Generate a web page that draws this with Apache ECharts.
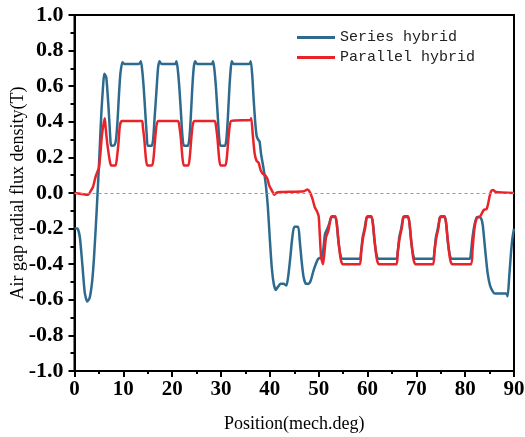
<!DOCTYPE html>
<html>
<head>
<meta charset="utf-8">
<script src="https://cdn.jsdelivr.net/npm/echarts@6/dist/echarts.min.js"></script>
<style>html,body{margin:0;padding:0;background:#fff;}#c{width:525px;height:437px;}</style>
</head>
<body>
<div id="c"></div>
<script>
var seriesNames = ['Series hybrid', 'Parallel hybrid'];
var xTicks = [0, 10, 20, 30, 40, 50, 60, 70, 80, 90];
var yTicks = [-1.0, -0.8, -0.6, -0.4, -0.2, 0.0, 0.2, 0.4, 0.6, 0.8, 1.0];

var seriesHybrid = [
[0,-0.20],[0.6,-0.20],[1.1,-0.25],[1.6,-0.40],[2.1,-0.56],[2.6,-0.61],[3.1,-0.59],[3.6,-0.50],[4.0,-0.36],[4.5,-0.12],[5.0,0.15],[5.5,0.45],[5.9,0.62],[6.1,0.67],[6.5,0.65],[6.8,0.55],[7.1,0.42],[7.4,0.28],[7.6,0.265],[8.2,0.27],[8.5,0.30],[8.8,0.40],[9.1,0.55],[9.4,0.67],[9.8,0.735],[10.2,0.725],[13.2,0.725],[13.6,0.74],[13.9,0.68],[14.2,0.58],[14.5,0.45],[14.8,0.32],[15.0,0.265],[15.8,0.265],[16.1,0.30],[16.4,0.42],[16.8,0.58],[17.1,0.70],[17.4,0.74],[17.8,0.725],[20.6,0.725],[20.9,0.74],[21.2,0.68],[21.5,0.58],[21.8,0.45],[22.1,0.32],[22.4,0.265],[23.2,0.265],[23.5,0.30],[23.8,0.42],[24.1,0.58],[24.4,0.70],[24.7,0.74],[25.1,0.725],[28.1,0.725],[28.4,0.74],[28.7,0.68],[29.0,0.58],[29.3,0.45],[29.6,0.32],[29.9,0.265],[30.8,0.265],[31.1,0.30],[31.4,0.42],[31.7,0.58],[32.0,0.70],[32.2,0.74],[32.6,0.725],[35.8,0.725],[36.1,0.74],[36.4,0.66],[36.7,0.52],[37.0,0.40],[37.3,0.32],[37.6,0.30],[37.9,0.29],[38.2,0.22],[38.7,0.14],[39.2,0.04],[39.6,-0.08],[40.0,-0.26],[40.4,-0.42],[40.8,-0.51],[41.2,-0.545],[41.6,-0.53],[42.2,-0.51],[42.8,-0.51],[43.4,-0.52],[43.8,-0.46],[44.2,-0.36],[44.6,-0.25],[45.0,-0.19],[45.8,-0.19],[46.1,-0.26],[46.5,-0.38],[46.9,-0.47],[47.4,-0.51],[47.9,-0.51],[48.4,-0.49],[48.9,-0.44],[49.4,-0.40],[49.9,-0.37],[50.6,-0.36],[50.9,-0.33],[51.3,-0.23],[51.8,-0.20],[52.2,-0.17],[52.6,-0.135],[53.4,-0.135],[53.7,-0.17],[54.0,-0.26],[54.4,-0.34],[54.8,-0.37],[58.4,-0.37],[58.7,-0.33],[59.0,-0.25],[59.4,-0.20],[59.8,-0.14],[60.0,-0.135],[60.8,-0.135],[61.1,-0.17],[61.4,-0.26],[61.8,-0.34],[62.2,-0.37],[65.9,-0.37],[66.2,-0.33],[66.5,-0.25],[66.9,-0.20],[67.3,-0.14],[67.5,-0.135],[68.3,-0.135],[68.6,-0.17],[68.9,-0.26],[69.3,-0.34],[69.7,-0.37],[73.4,-0.37],[73.7,-0.33],[74.0,-0.25],[74.4,-0.20],[74.8,-0.14],[75.0,-0.135],[75.8,-0.135],[76.1,-0.17],[76.4,-0.26],[76.8,-0.34],[77.2,-0.37],[80.9,-0.37],[81.2,-0.33],[81.5,-0.25],[81.9,-0.18],[82.3,-0.14],[82.5,-0.135],[83.2,-0.14],[83.6,-0.18],[84.1,-0.32],[84.6,-0.45],[85.1,-0.52],[85.7,-0.555],[86.1,-0.565],[88.4,-0.565],[88.7,-0.58],[89.0,-0.48],[89.4,-0.33],[89.7,-0.25],[90,-0.20]
];

var parallelHybrid = [
[0,0.0],[1.5,-0.005],[2.8,-0.01],[3.3,0.01],[3.8,0.035],[4.3,0.09],[4.7,0.12],[5.0,0.14],[5.3,0.22],[5.6,0.32],[5.9,0.38],[6.2,0.42],[6.4,0.36],[6.7,0.28],[7.0,0.22],[7.3,0.17],[7.5,0.155],[8.4,0.155],[8.7,0.20],[9.0,0.28],[9.3,0.38],[9.7,0.405],[13.8,0.405],[14.0,0.37],[14.3,0.30],[14.6,0.20],[14.9,0.155],[15.9,0.155],[16.2,0.20],[16.5,0.30],[16.8,0.38],[17.2,0.405],[21.2,0.405],[21.5,0.37],[21.8,0.30],[22.1,0.20],[22.4,0.155],[23.3,0.155],[23.6,0.20],[23.9,0.30],[24.2,0.38],[24.6,0.405],[28.7,0.405],[29.0,0.37],[29.3,0.30],[29.6,0.20],[29.9,0.155],[30.9,0.155],[31.2,0.20],[31.5,0.30],[31.8,0.38],[32.1,0.405],[36.0,0.41],[36.2,0.42],[36.5,0.33],[36.9,0.22],[37.3,0.18],[37.7,0.17],[38.1,0.13],[38.5,0.11],[39.0,0.10],[39.5,0.08],[39.9,0.04],[40.4,0.015],[40.9,-0.01],[41.3,0.0],[42.1,0.005],[47.0,0.01],[47.7,0.02],[48.2,0.005],[48.7,-0.03],[49.2,-0.08],[49.6,-0.10],[50.0,-0.13],[50.2,-0.22],[50.5,-0.36],[50.9,-0.40],[51.2,-0.33],[51.5,-0.25],[52.0,-0.21],[52.4,-0.15],[52.7,-0.13],[53.4,-0.13],[53.7,-0.17],[54.1,-0.28],[54.5,-0.37],[54.9,-0.40],[58.4,-0.40],[58.7,-0.33],[59.1,-0.25],[59.5,-0.20],[59.8,-0.14],[60.0,-0.13],[60.8,-0.13],[61.1,-0.17],[61.5,-0.28],[61.9,-0.37],[62.3,-0.40],[65.9,-0.40],[66.2,-0.33],[66.6,-0.25],[67.0,-0.20],[67.3,-0.14],[67.5,-0.13],[68.3,-0.13],[68.6,-0.17],[69.0,-0.28],[69.4,-0.37],[69.8,-0.40],[73.4,-0.40],[73.7,-0.33],[74.1,-0.25],[74.5,-0.20],[74.8,-0.14],[75.0,-0.13],[75.8,-0.13],[76.1,-0.17],[76.5,-0.28],[76.9,-0.37],[77.3,-0.40],[81.2,-0.40],[81.5,-0.32],[81.9,-0.20],[82.4,-0.14],[83.1,-0.13],[83.5,-0.11],[83.8,-0.095],[84.4,-0.09],[84.7,-0.06],[85.0,-0.02],[85.3,0.01],[85.7,0.017],[86.3,0.005],[90,0.0]
];

var chart = echarts.init(document.getElementById('c'), null, {renderer: 'canvas'});
var serif = '"Liberation Serif", "Times New Roman", serif';
chart.setOption({
  animation: false,
  backgroundColor: '#fff',
  grid: {left: 74.5, right: 11, top: 15, bottom: 66, show: true, borderColor: '#000', borderWidth: 2, backgroundColor: 'transparent', containLabel: false, outerBoundsMode: 'none'},
  legend: {
    orient: 'vertical', left: 292, top: 25, itemGap: 5,
    itemWidth: 38, itemHeight: 3, icon: 'rect',
    textStyle: {fontFamily: '"Liberation Mono", "DejaVu Sans Mono", monospace', fontSize: 15, color: '#222', padding: [0,0,0,0]},
    data: seriesNames
  },
  xAxis: {
    type: 'value', min: 0, max: 90, interval: 10,
    name: 'Position(mech.deg)', nameLocation: 'middle', nameGap: 44, nameMoveOverlap: false,
    nameTextStyle: {fontFamily: serif, fontSize: 18, color: '#000'},
    axisLine: {onZero: false, lineStyle: {color: '#000', width: 2}},
    axisTick: {inside: false, length: 6, lineStyle: {color: '#000', width: 2}},
    minorTick: {show: true, splitNumber: 2, length: 3, lineStyle: {color: '#000', width: 2}},
    axisLabel: {fontFamily: serif, fontWeight: 'bold', fontSize: 21, color: '#000', margin: 8,
      formatter: function (v) { return xTicks.indexOf(v) >= 0 ? String(v) : ''; }},
    splitLine: {show: false}
  },
  yAxis: {
    type: 'value', min: -1, max: 1, interval: 0.2,
    name: 'Air gap radial flux density(T)', nameLocation: 'middle', nameGap: 47, nameMoveOverlap: false,
    nameTextStyle: {fontFamily: serif, fontSize: 18, color: '#000'},
    axisLine: {onZero: false, lineStyle: {color: '#000', width: 2}},
    axisTick: {inside: false, length: 6, lineStyle: {color: '#000', width: 2}},
    minorTick: {show: true, splitNumber: 2, length: 4, lineStyle: {color: '#000', width: 2}},
    axisLabel: {fontFamily: serif, fontWeight: 'bold', fontSize: 22, color: '#000', margin: 11,
      formatter: function (v) { return Number(v).toFixed(1); }},
    splitLine: {show: false}
  },
  series: [
    {
      name: seriesNames[0], type: 'line', data: seriesHybrid, showSymbol: false, smooth: 0.2,
      lineStyle: {color: '#2D6A8E', width: 2.5}, itemStyle: {color: '#2D6A8E'}, z: 2,
      markLine: {silent: true, symbol: 'none', label: {show: false},
        lineStyle: {color: '#999', type: [3, 3], width: 1, opacity: 1},
        data: [{yAxis: 0}]}
    },
    {
      name: seriesNames[1], type: 'line', data: parallelHybrid, showSymbol: false, smooth: 0.2,
      lineStyle: {color: '#E8242A', width: 2.5}, itemStyle: {color: '#E8242A'}, z: 3
    }
  ]
});
</script>
</body>
</html>
